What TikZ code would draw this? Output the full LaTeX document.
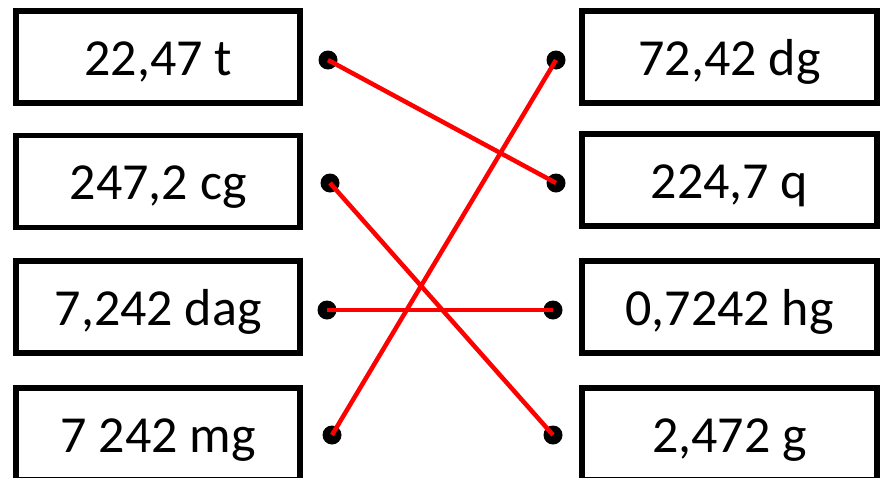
\documentclass[tikz,border=0pt]{standalone}
\usepackage{fontspec}
\setmainfont{Carlito}
\begin{document}
\begin{tikzpicture}[x=1pt,y=-1pt,
  valbox/.style={draw=black,line width=5.6pt,rectangle,minimum height=92pt,
    inner sep=0pt,text height=36pt,text depth=0pt,font=\fontsize{52}{60}\selectfont},
  lbox/.style={valbox,minimum width=284pt},
  rbox/.style={valbox,minimum width=295pt},
  dot/.style={circle,fill=black,minimum size=19pt,inner sep=0pt},
  link/.style={draw=red,line width=4.5pt}]
\useasboundingbox (0,0) rectangle (886,477);
\clip (0,0) rectangle (886,477);
% left boxes
\node[lbox] (a1) at (158.2,57) {22,47 t};
\node[lbox] (a2) at (158.2,181.5) {247,2 cg};
\node[lbox] (a3) at (158.2,307) {7,242 dag};
\node[lbox] (a4) at (158.2,434) {7 242 mg};
% right boxes
\node[rbox] (b1) at (729.5,57) {72,42 dg};
\node[rbox] (b2) at (729.5,180) {224,7 q};
\node[rbox] (b3) at (729.5,307) {0,7242 hg};
\node[rbox] (b4) at (729.5,434) {2,472 g};
% dots
\node[dot] (l1) at (328,60) {};
\node[dot] (l2) at (330,183) {};
\node[dot] (l3) at (327,310) {};
\node[dot] (l4) at (332,435) {};
\node[dot] (r1) at (556,60) {};
\node[dot] (r2) at (556,183) {};
\node[dot] (r3) at (553,310) {};
\node[dot] (r4) at (553,435) {};
% links
\draw[link] (l1.center) -- (r2.center);
\draw[link] (l2.center) -- (r4.center);
\draw[link] (l3.center) -- (r3.center);
\draw[link] (l4.center) -- (r1.center);
\end{tikzpicture}
\end{document}
